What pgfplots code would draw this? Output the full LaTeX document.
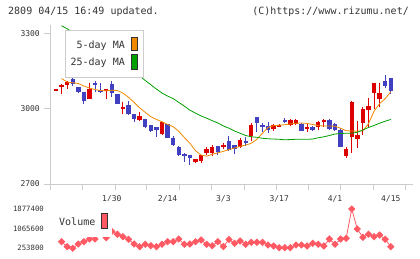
\documentclass[border=0pt]{standalone}
\usepackage{pgfplots}
\usepackage{pgfplotstable}
\pgfplotsset{compat=1.18}
\usepackage{fontspec}
\setmainfont{DejaVu Sans Mono}

\definecolor{upred}{RGB}{221,0,0}
\definecolor{downblue}{RGB}{64,64,192}
\definecolor{maorange}{RGB}{240,136,0}
\definecolor{magreen}{RGB}{0,160,0}
\definecolor{volred}{RGB}{255,90,100}
\definecolor{axisgray}{RGB}{204,204,204}
\definecolor{textgray}{RGB}{51,51,51}

% rising days (red): index, open, high, low, close
\pgfplotstableread{
i  o    h    l    c
0  3072 3077 3072 3077
1  3085 3098 3057 3094
2  3093 3111 3077 3106
6  3039 3101 3039 3079
9  3069 3077 3040 3077
12 2997 3028 2977 3008
15 2955 2988 2952 2971
19 2899 2947 2895 2947
25 2788 2800 2785 2798
26 2792 2815 2785 2815
27 2822 2848 2815 2838
28 2825 2856 2813 2846
30 2851 2864 2838 2855
33 2848 2883 2845 2875
35 2891 2941 2872 2935
39 2919 2939 2912 2935
40 2929 2937 2926 2934
42 2935 2959 2931 2955
43 2939 2957 2935 2955
45 2919 2941 2908 2928
47 2928 2950 2915 2946
48 2946 2959 2928 2955
52 2811 2848 2802 2838
53 2888 3032 2822 3028
54 2878 2950 2842 2895
55 2944 3005 2895 2997
56 2994 3041 2922 3010
57 3061 3101 3000 3101
58 3037 3101 3005 3061
}\upcandles

% falling days (blue)
\pgfplotstableread{
i  o    h    l    c
3  3118 3121 3090 3098
4  3087 3087 3061 3066
5  3066 3068 3018 3032
7  3101 3111 3067 3095
8  3074 3101 3063 3070
10 3098 3110 3047 3063
11 3058 3058 3017 3018
13 3014 3030 2973 2979
14 2979 2979 2948 2957
16 2959 2959 2922 2925
17 2935 2935 2908 2912
18 2925 2925 2888 2915
20 2939 2939 2882 2884
21 2882 2890 2853 2855
22 2846 2850 2812 2815
23 2819 2822 2789 2812
24 2815 2815 2775 2802
29 2852 2852 2815 2828
31 2870 2891 2833 2835
32 2855 2855 2818 2838
34 2871 2886 2852 2866
36 2965 2968 2908 2944
37 2933 2941 2908 2929
38 2931 2948 2902 2915
41 2955 2964 2941 2948
44 2939 2944 2912 2912
46 2928 2932 2912 2915
49 2955 2959 2915 2918
50 2939 2942 2912 2915
51 2915 2922 2848 2848
59 3110 3134 3081 3091
60 3121 3121 3057 3071
}\downcandles

\pgfplotstableread{
i v
1 526500
2 319900
3 253800
4 431450
5 526500
6 638000
7 638000
8 900000
9 691700
10 950000
11 832200
12 733000
13 625600
14 431450
15 319900
16 419000
17 361200
18 319900
19 419000
20 526500
21 526500
22 638000
23 419000
24 431450
25 526500
26 596700
27 419000
28 361200
29 526500
30 328200
31 617400
32 460400
33 555400
34 419000
35 501700
36 501700
37 501700
38 390100
39 348800
40 278600
41 278600
42 278600
43 390100
44 390100
45 348800
46 460400
47 419000
48 348800
49 638000
50 419000
51 638000
52 666900
53 1877400
54 1051100
55 708200
56 832200
57 733000
58 803300
59 625600
60 319900
}\volume

\pgfplotsset{
  candle/.style n args={2}{color=#1, only marks, mark=text, text mark={},
    forget plot,
    error bars/.cd, y dir=both, y explicit, error mark=none,
    error bar style={color=#1, line width=#2}},
}

\begin{document}
\begin{tikzpicture}[x=1pt,y=1pt]
\path[use as bounding box] (0,0) rectangle (420,259);

\begin{axis}[
    at={(50pt,75pt)}, anchor=south west,
    scale only axis, width=363pt, height=159pt,
    xmin=-1.075, xmax=63.98,
    ymin=2700, ymax=3333,
    axis x line*=bottom, axis y line*=left,
    axis line style={draw=axisgray, line width=0.8pt},
    tick style={draw=axisgray, line width=0.8pt},
    tick align=outside, major tick length=6pt,
    xtick={-1.075,4.78,10.57,16.25,22.10,27.90,33.75,39.55,45.22,51.02,56.87,62.54},
    xticklabels={},
    extra x ticks={10,20,30,40,50,60},
    extra x tick labels={1/30,2/14,3/3,3/17,4/1,4/15},
    extra x tick style={major tick length=0pt,
        xticklabel style={yshift=-8pt}},
    xticklabel style={font=\fontsize{8}{8}\selectfont, text=textgray},
    ytick={2700,3000,3300},
    yticklabels={2700,3000,3300},
    yticklabel style={font=\fontsize{8}{8}\selectfont, text=textgray,
        anchor=east, inner sep=0pt, xshift=-4pt},
]
% wicks
\addplot[candle={upred}{1pt}]
    table[x=i, y expr=(\thisrow{h}+\thisrow{l})/2,
          y error expr=(\thisrow{h}-\thisrow{l})/2] {\upcandles};
\addplot[candle={downblue}{1pt}]
    table[x=i, y expr=(\thisrow{h}+\thisrow{l})/2,
          y error expr=(\thisrow{h}-\thisrow{l})/2] {\downcandles};
% bodies
\addplot[candle={upred}{4.4pt}]
    table[x=i, y expr=(\thisrow{o}+\thisrow{c})/2,
          y error expr=abs(\thisrow{o}-\thisrow{c})/2] {\upcandles};
\addplot[candle={downblue}{4.4pt}]
    table[x=i, y expr=(\thisrow{o}+\thisrow{c})/2,
          y error expr=abs(\thisrow{o}-\thisrow{c})/2] {\downcandles};

% 5-day MA
\addplot[maorange, line width=0.8pt, mark=none] coordinates {
(1,3120)(2,3106)(3,3103)(4,3100)(5,3090)(6,3082)(7,3076)(8,3072)(9,3071)
(10,3073)(11,3072)(12,3062)(13,3045)(14,3025)(15,3003)(16,2985)(17,2968)
(18,2957)(19,2948)(20,2937)(21,2928)(22,2910)(23,2885)(24,2862)(25,2833)
(26,2815)(27,2811)(28,2818)(29,2824)(30,2830)(31,2837)(32,2843)(33,2850)
(34,2855)(35,2862)(36,2878)(37,2902)(38,2925)(39,2932)(40,2934)(41,2936)
(42,2939)(43,2942)(44,2943)(45,2941)(46,2937)(47,2932)(48,2931)(49,2931)
(50,2930)(51,2922)(52,2912)(53,2911)(54,2910)(55,2912)(56,2940)(57,2990)
(58,3020)(59,3040)(60,3067)
};
% 25-day MA
\addplot[magreen, line width=0.8pt, mark=none] coordinates {
(1,3330)(2,3318)(15,3130)(16,3112)(17,3095)(18,3078)(19,3062)(20,3050)
(21,3040)(22,3025)(23,3010)(24,2994)(25,2982)(26,2971)(27,2962)(28,2952)
(29,2943)(30,2931)(31,2922)(32,2911)(33,2902)(34,2893)(35,2888)(36,2886)
(37,2882)(38,2880)(39,2879)(40,2878)(41,2876)(42,2877)(43,2878)(44,2878)
(45,2878)(46,2879)(47,2884)(48,2888)(49,2893)(50,2899)(51,2901)(52,2902)
(53,2902)(54,2906)(55,2915)(56,2925)(57,2933)(58,2942)(59,2950)(60,2957)
};
\end{axis}

\begin{axis}[
    at={(50pt,7pt)}, anchor=south west,
    scale only axis, width=363pt, height=52pt,
    xmin=-1.075, xmax=63.98,
    ymin=100942, ymax=2249217,
    axis line style={draw=none},
    major tick length=0pt,
    xtick=\empty,
    scaled y ticks=false,
    ytick={253800,1065600,1877400},
    yticklabels={253800,1065600,1877400},
    yticklabel style={font=\fontsize{7.3}{7.3}\selectfont, text=textgray,
        anchor=east, inner sep=0pt, xshift=-6pt},
    clip=false,
]
\addplot[volred, line width=0.8pt, mark=square*, mark size=2.2pt,
    mark options={rotate=45, fill=volred, draw=volred}]
    table[x=i, y=v] {\volume};
\end{axis}

% header
\node[anchor=west, inner sep=0pt, text=textgray, font=\fontsize{10}{12}\selectfont]
    at (8,247) {2809 04/15 16:49 updated.};
\node[anchor=east, inner sep=0pt, text=textgray, font=\fontsize{10}{12}\selectfont]
    at (409,247) {(C)https://www.rizumu.net/};

% price legend
\draw[axisgray, fill=white, line width=0.8pt] (65,229) rectangle (143,182);
\node[anchor=east, inner sep=0pt, text=textgray, font=\fontsize{10}{12}\selectfont]
    at (125,213) {5-day MA};
\node[anchor=east, inner sep=0pt, text=textgray, font=\fontsize{10}{12}\selectfont]
    at (125,196) {25-day MA};
\draw[textgray, fill=maorange, line width=0.8pt] (131,222) rectangle (137,209);
\draw[textgray, fill=magreen, line width=0.8pt] (131,204.7) rectangle (137,189.7);

% volume legend
\fill[white] (55,22) rectangle (112,58);
\node[anchor=west, inner sep=0pt, text=textgray, font=\fontsize{10}{12}\selectfont]
    at (59,37) {Volume};
\draw[textgray, fill=volred, line width=0.8pt] (101,45.7) rectangle (107,30.7);
\end{tikzpicture}
\end{document}
